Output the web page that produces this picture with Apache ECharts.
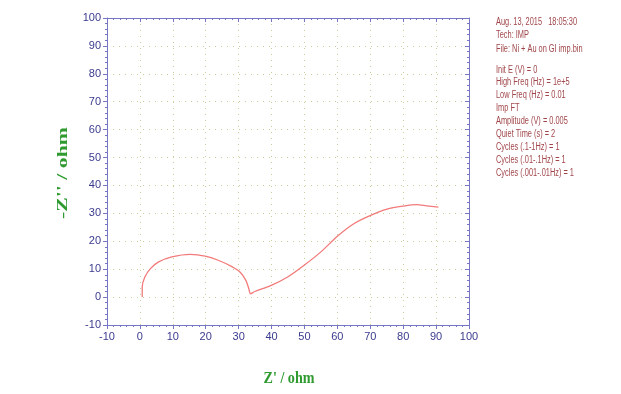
<!DOCTYPE html>
<html><head><meta charset="utf-8">
<script src="https://cdn.jsdelivr.net/npm/echarts@6/dist/echarts.min.js"></script>
<style>html,body{margin:0;padding:0;background:#fff}#c{width:621px;height:394px}</style>
</head><body><div id="c"></div>
<script>
const zReal = [0.7,0.7,1.5,3.2,5.7,9.7,15.3,19.8,23.8,27.8,30.4,32.2,33.1,33.6,34.9,39.9,44.9,49.9,55.0,60.0,65.0,70.1,75.1,80.1,84.1,87.1,90.7];
const zImag = [0,3.6,7.2,10.2,12.6,14.4,15.3,14.7,13.2,11.0,9.0,6.0,3.0,1.2,2.0,4.2,7.2,11.4,16.2,21.8,26.3,29.3,31.5,32.6,33.1,32.7,32.2];
const infoLines = [
  ["Aug. 13, 2015   18:05:30", 22.5],
  ["Tech: IMP", 35.5],
  ["File: Ni + Au on GI imp.bin", 49],
  ["Init E (V) = 0", 70],
  ["High Freq (Hz) = 1e+5", 82.5],
  ["Low Freq (Hz) = 0.01", 95.5],
  ["Imp FT", 108],
  ["Amplitude (V) = 0.005", 121],
  ["Quiet Time (s) = 2", 134],
  ["Cycles (.1-1Hz) = 1", 147],
  ["Cycles (.01-.1Hz) = 1", 160],
  ["Cycles (.001-.01Hz) = 1", 173]
];
const axisMin = -10, axisMax = 100, axisStep = 10;

const chart = echarts.init(document.getElementById('c'));
const axisCol = '#7676c4';
const labCol = '#3b3b8e';
const narrow = '"Liberation Sans Narrow", "Liberation Sans", Arial, sans-serif';
function mkAxis(pos, showLabel) {
  return {
    type: 'value', position: pos, min: axisMin, max: axisMax, interval: axisStep,
    axisLine: {show: true, onZero: false, lineStyle: {color: axisCol, width: 1}},
    axisTick: {show: true, inside: !showLabel, length: 4, lineStyle: {color: axisCol}},
    minorTick: {show: true, splitNumber: 5, length: 2, lineStyle: {color: axisCol}},
    axisLabel: {show: showLabel, color: labCol, fontSize: 11, fontFamily: narrow, margin: 6},
    splitLine: {show: showLabel, lineStyle: {color: '#c9cf9a', type: [1, 5], width: 1}},
    minorSplitLine: {show: false}
  };
}
const gridPos = {left: 107, right: 152, top: 18, bottom: 69};
const titleFont = 'bold 17px "Liberation Serif", "DejaVu Serif", serif';
chart.setOption({
  animation: false,
  backgroundColor: '#fff',
  grid: gridPos,
  xAxis: [mkAxis('bottom', true), mkAxis('top', false)],
  yAxis: [mkAxis('left', true), mkAxis('right', false)],
  series: [{
    type: 'line', data: zReal.map((x, i) => [x, zImag[i]]),
    smooth: 0.3, showSymbol: false, lineStyle: {color: '#f27a7a', width: 1.3}
  }],
  graphic: [
    {type: 'text', x: 289, y: 379, scaleX: 0.83, style: {text: "Z' / ohm", fill: '#2f9a2f', font: titleFont, align: 'center', verticalAlign: 'middle'}},
    {type: 'text', x: 63, y: 173, rotation: Math.PI / 2, scaleX: 1.45, style: {text: "-Z'' / ohm", fill: '#2f9a2f', font: 'bold 15px "Liberation Serif", "DejaVu Serif", serif', align: 'center', verticalAlign: 'middle'}}
  ].concat(infoLines.map(l => ({
    type: 'text', x: 496, y: l[1], scaleX: 0.74, style: {text: l[0], fill: '#a0464a', font: '10px ' + narrow, verticalAlign: 'middle'}
  })))
});
</script></body></html>
